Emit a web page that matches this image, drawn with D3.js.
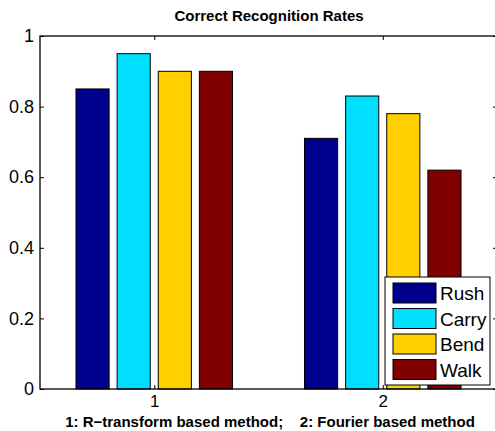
<!DOCTYPE html>
<html>
<head>
<meta charset="utf-8">
<script src="https://cdn.jsdelivr.net/npm/d3@7"></script>
<style>
  body { margin: 0; background: #fff; }
  text { font-family: "Liberation Sans", Arial, sans-serif; }
</style>
</head>
<body>
<script>
// chart data
var groups = [1, 2];
var series = ['Rush', 'Carry', 'Bend', 'Walk'];
var rush = [0.85, 0.71];
var carry = [0.95, 0.83];
var bend = [0.90, 0.78];
var walk = [0.90, 0.62];
var colors = ['#00008f', '#00dfff', '#ffcf00', '#800000'];
var yTicks = [0, 0.2, 0.4, 0.6, 0.8, 1];

var values = [rush, carry, bend, walk];

var W = 495, H = 431;
var mLeft = 40, mRight = 497, mTop = 36, mBottom = 389;

var svg = d3.select('body').append('svg').attr('width', W).attr('height', H);

var x = d3.scaleLinear().domain([0.5, 2.5]).range([mLeft, mRight]);
var y = d3.scaleLinear().domain([0, 1]).range([mBottom, mTop]);

// bar offsets within a group (MATLAB grouped bar layout)
var step = 0.18, barW = 0.145;

series.forEach(function (s, j) {
  svg.selectAll('rect.s' + j)
    .data(groups)
    .enter()
    .append('rect')
    .attr('class', 's' + j)
    .attr('x', function (g) { return x(g + (j - 1.5) * step - barW / 2); })
    .attr('width', function () { return x(0.5 + barW) - x(0.5); })
    .attr('y', function (g, i) { return y(values[j][i]); })
    .attr('height', function (g, i) { return y(0) - y(values[j][i]); })
    .attr('fill', colors[j])
    .attr('stroke', '#000')
    .attr('stroke-width', 1);
});

// axes
var yAxis = d3.axisLeft(y).tickValues(yTicks).tickSize(-4).tickPadding(6)
  .tickFormat(function (d) { return d === 0 || d === 1 ? d : d3.format('.1f')(d); });
var yAxisR = d3.axisRight(y).tickValues(yTicks).tickSize(-4).tickFormat('');
var xAxis = d3.axisBottom(x).tickValues(groups).tickSize(-4).tickPadding(6).tickFormat(d3.format('d'));
var xAxisT = d3.axisTop(x).tickValues(groups).tickSize(-4).tickFormat('');

function style(g) {
  g.select('.domain').remove();
  g.selectAll('line').attr('stroke', '#000');
  g.selectAll('text').attr('font-size', 18).attr('fill', '#000')
    .style('font-family', '"Liberation Sans", Arial, sans-serif');
}

svg.append('g').attr('transform', 'translate(' + mLeft + ',0)').call(yAxis).call(style);
svg.append('g').attr('transform', 'translate(' + mRight + ',0)').call(yAxisR).call(style);
svg.append('g').attr('transform', 'translate(0,' + mBottom + ')').call(xAxis).call(style)
  .selectAll('text').attr('font-size', 17);
svg.append('g').attr('transform', 'translate(0,' + mTop + ')').call(xAxisT).call(style);

// frame
svg.append('rect')
  .attr('x', mLeft).attr('y', mTop)
  .attr('width', mRight - mLeft).attr('height', mBottom - mTop)
  .attr('fill', 'none').attr('stroke', '#000').attr('stroke-width', 1.3);

// title and label
svg.append('text')
  .attr('x', 269).attr('y', 21)
  .attr('text-anchor', 'middle')
  .attr('font-size', 15).attr('font-weight', 'bold')
  .text('Correct Recognition Rates');

svg.append('text')
  .attr('x', 270).attr('y', 427)
  .attr('text-anchor', 'middle')
  .attr('font-size', 15).attr('font-weight', 'bold')
  .style('white-space', 'pre')
  .text('1: R\u2212transform based method;    2: Fourier based method');

// legend
var lg = svg.append('g').attr('transform', 'translate(385,277)');
lg.append('rect')
  .attr('width', 105).attr('height', 108)
  .attr('fill', '#fff').attr('stroke', '#000').attr('stroke-width', 1);

var items = lg.selectAll('g.item')
  .data(series)
  .enter()
  .append('g')
  .attr('class', 'item')
  .attr('transform', function (d, i) { return 'translate(8,' + (6 + i * 25.5) + ')'; });

items.append('rect')
  .attr('width', 43).attr('height', 20)
  .attr('fill', function (d, i) { return colors[i]; })
  .attr('stroke', '#000');

items.append('text')
  .attr('x', 47).attr('y', 17)
  .attr('font-size', 19)
  .text(function (d) { return d; });
</script>
</body>
</html>
